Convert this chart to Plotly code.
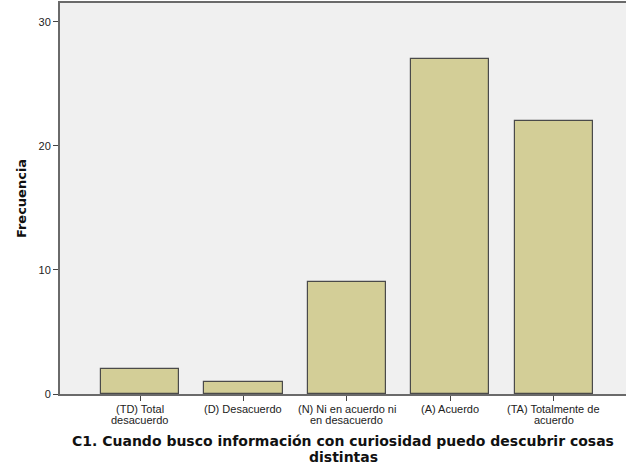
import plotly.graph_objects as go

categories = ["(TD) Total<br>desacuerdo", "(D) Desacuerdo", "(N) Ni en acuerdo ni<br>en desacuerdo",
              "(A) Acuerdo", "(TA) Totalmente de<br>acuerdo"]
values = [2, 1, 9, 27, 22]
y_ticks = [0, 10, 20, 30]
x_title_lines = ["C1. Cuando busco información con curiosidad puedo descubrir cosas", "distintas"]

fig = go.Figure(go.Bar(
    x=list(range(len(categories))), y=values,
    width=0.754,
    marker=dict(color="#D3CE97", line=dict(color="#4a4a4a", width=1.2)),
))

fig.update_layout(
    width=626, height=467,
    margin=dict(l=60, r=0, t=3, b=73, autoexpand=False),
    paper_bgcolor="white", plot_bgcolor="#F0F0F0",
    font=dict(family="Liberation Sans, Arial, sans-serif", size=11, color="#222"),
    showlegend=False,
    bargap=0,
)
fig.update_xaxes(
    range=[-0.773, 4.696], tickmode="array", tickvals=list(range(len(categories))),
    showticklabels=False, ticks="outside", ticklen=5, tickcolor="#444",
    showline=True, linecolor="#6a6a6a", linewidth=2, mirror=True,
    showgrid=False, zeroline=False, automargin=False,
)
fig.update_yaxes(
    range=[0, 31.53], tickvals=y_ticks, ticks="outside", ticklen=5, tickcolor="#444",
    showline=True, linecolor="#6a6a6a", linewidth=2,
    showgrid=False, zeroline=False, automargin=False,
    title=dict(text="<b>Frecuencia</b>", font=dict(family="DejaVu Sans", size=13, color="#111"), standoff=9),
)

# category tick labels, with tight line spacing
for i, cat in enumerate(categories):
    for j, part in enumerate(cat.split("<br>")):
        fig.add_annotation(
            text=part, xref="x", yref="paper", x=i, y=0, yshift=-14.5 - 11.5 * j,
            xanchor="center", yanchor="middle", showarrow=False,
            font=dict(size=11, color="#222"),
        )

for line, yp in zip(x_title_lines, [-0.1202, -0.1611]):
    fig.add_annotation(
        text="<b>" + line + "</b>", xref="paper", yref="paper", x=0.5, y=yp,
        xanchor="center", yanchor="middle", showarrow=False,
        font=dict(family="DejaVu Sans", size=14, color="#111"),
    )

fig.write_html("out.html", config={"displayModeBar": False},
               post_script="document.body.style.margin='0';")
